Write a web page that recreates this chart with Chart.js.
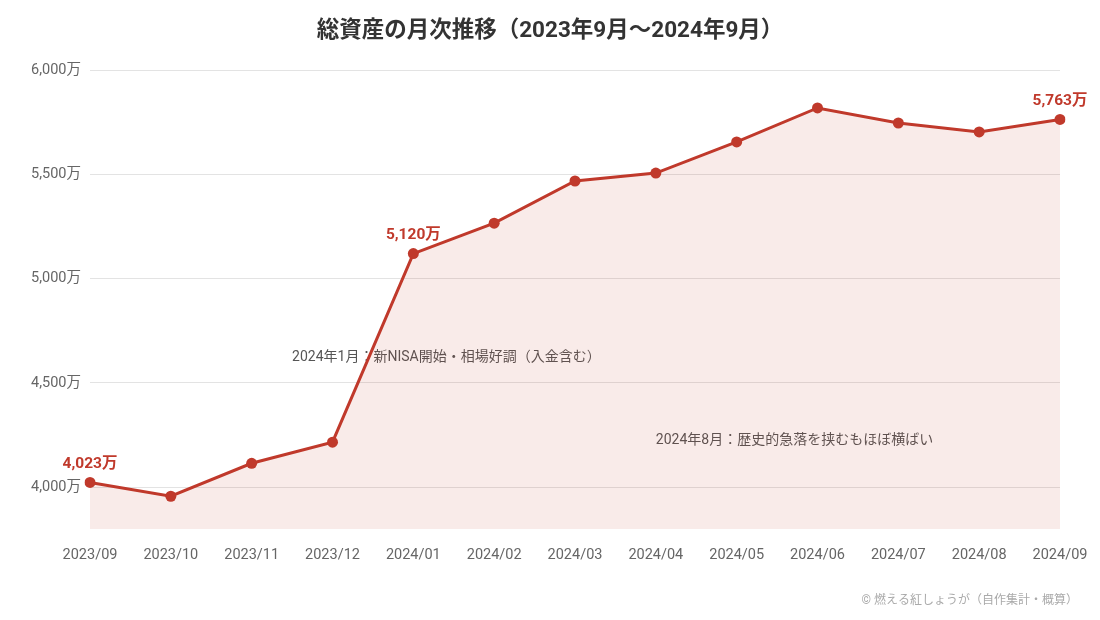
<!DOCTYPE html>
<html lang="ja">
<head>
<meta charset="utf-8">
<script src="https://cdn.jsdelivr.net/npm/chart.js@4"></script>
<style>
  html, body { margin: 0; padding: 0; background: #fff; }
  #wrap { width: 1100px; height: 620px; }
</style>
</head>
<body>
<div id="wrap"><canvas id="assetChart" width="1100" height="620"></canvas></div>
<script>
// ===== DATA =====
const months = ["2023/09", "2023/10", "2023/11", "2023/12", "2024/01", "2024/02", "2024/03",
                "2024/04", "2024/05", "2024/06", "2024/07", "2024/08", "2024/09"];
const totals = [4023, 3957, 4115, 4216, 5120, 5266, 5468, 5506, 5655, 5818, 5746, 5703, 5763];
const yTicks = [4000, 4500, 5000, 5500, 6000];
const labelledIdx = [0, 4, 12];
const notes = [
    { text: "2024年1月：新NISA開始・相場好調（入金含む）", at: 2.5, value: 4624 },
    { text: "2024年8月：歴史的急落を挟むもほぼ横ばい", at: 7, value: 4225 }
];
const titleText = "総資産の月次推移（2023年9月〜2024年9月）";
const footerText = "© 燃える紅しょうが（自作集計・概算）";

const RED = "#c0392b";
const FONT = "Roboto, 'Noto Sans CJK JP', sans-serif";

const fmt = v => v.toLocaleString("en-US") + "万";

// ===== PLUGIN: title, labels, notes, footer =====
const extras = {
    id: "extras",
    beforeDatasetsDraw(chart) {
        const { ctx, scales } = chart;
        ctx.save();
        ctx.font = "14px " + FONT;
        ctx.fillStyle = "#555";
        ctx.textAlign = "left";
        ctx.textBaseline = "middle";
        notes.forEach(n => {
            ctx.fillText(n.text, scales.x.getPixelForValue(n.at), scales.y.getPixelForValue(n.value));
        });
        ctx.restore();
    },
    afterDatasetsDraw(chart) {
        const { ctx } = chart;
        const meta = chart.getDatasetMeta(0);
        ctx.save();
        ctx.font = "bold 15.5px " + FONT;
        ctx.fillStyle = RED;
        ctx.textAlign = "center";
        ctx.textBaseline = "middle";
        labelledIdx.forEach(i => {
            const pt = meta.data[i];
            ctx.fillText(fmt(totals[i]), pt.x, pt.y - 18);
        });
        ctx.restore();
    },
    afterDraw(chart) {
        const { ctx, width } = chart;
        ctx.save();
        ctx.textBaseline = "middle";
        ctx.font = "bold 22.5px " + FONT;
        ctx.fillStyle = "#333";
        ctx.textAlign = "center";
        ctx.fillText(titleText, width / 2, 31);
        ctx.font = "12px " + FONT;
        ctx.fillStyle = "#aaa";
        ctx.textAlign = "right";
        ctx.fillText(footerText, 1078, 601);
        ctx.restore();
    }
};

// ===== CHART =====
new Chart(document.getElementById("assetChart"), {
    type: "line",
    data: {
        labels: months,
        datasets: [{
            data: totals,
            borderColor: RED,
            borderWidth: 3,
            backgroundColor: "rgba(192, 57, 43, 0.1)",
            fill: "start",
            tension: 0,
            pointRadius: 5.5,
            pointBackgroundColor: RED,
            pointBorderColor: RED,
            pointBorderWidth: 0
        }]
    },
    options: {
        responsive: false,
        animation: false,
        layout: { padding: { left: 0, right: 40, top: 70, bottom: 50 } },
        plugins: {
            legend: { display: false },
            tooltip: { enabled: false },
            title: { display: false }
        },
        scales: {
            x: {
                grid: { display: false },
                border: { display: false },
                ticks: {
                    color: "#666",
                    font: { family: FONT, size: 14.5 },
                    maxRotation: 0,
                    padding: 10
                },
                afterFit: s => { s.height = 41; }
            },
            y: {
                min: 3800,
                max: 6000,
                border: { display: false },
                grid: { color: "#e3e3e3", drawTicks: false },
                ticks: {
                    color: "#666",
                    font: { family: FONT, size: 14.5 },
                    padding: 9,
                    callback: v => fmt(v)
                },
                afterBuildTicks: s => { s.ticks = yTicks.map(v => ({ value: v })); },
                afterFit: s => { s.width = 90; }
            }
        }
    },
    plugins: [extras]
});
</script>
</body>
</html>
